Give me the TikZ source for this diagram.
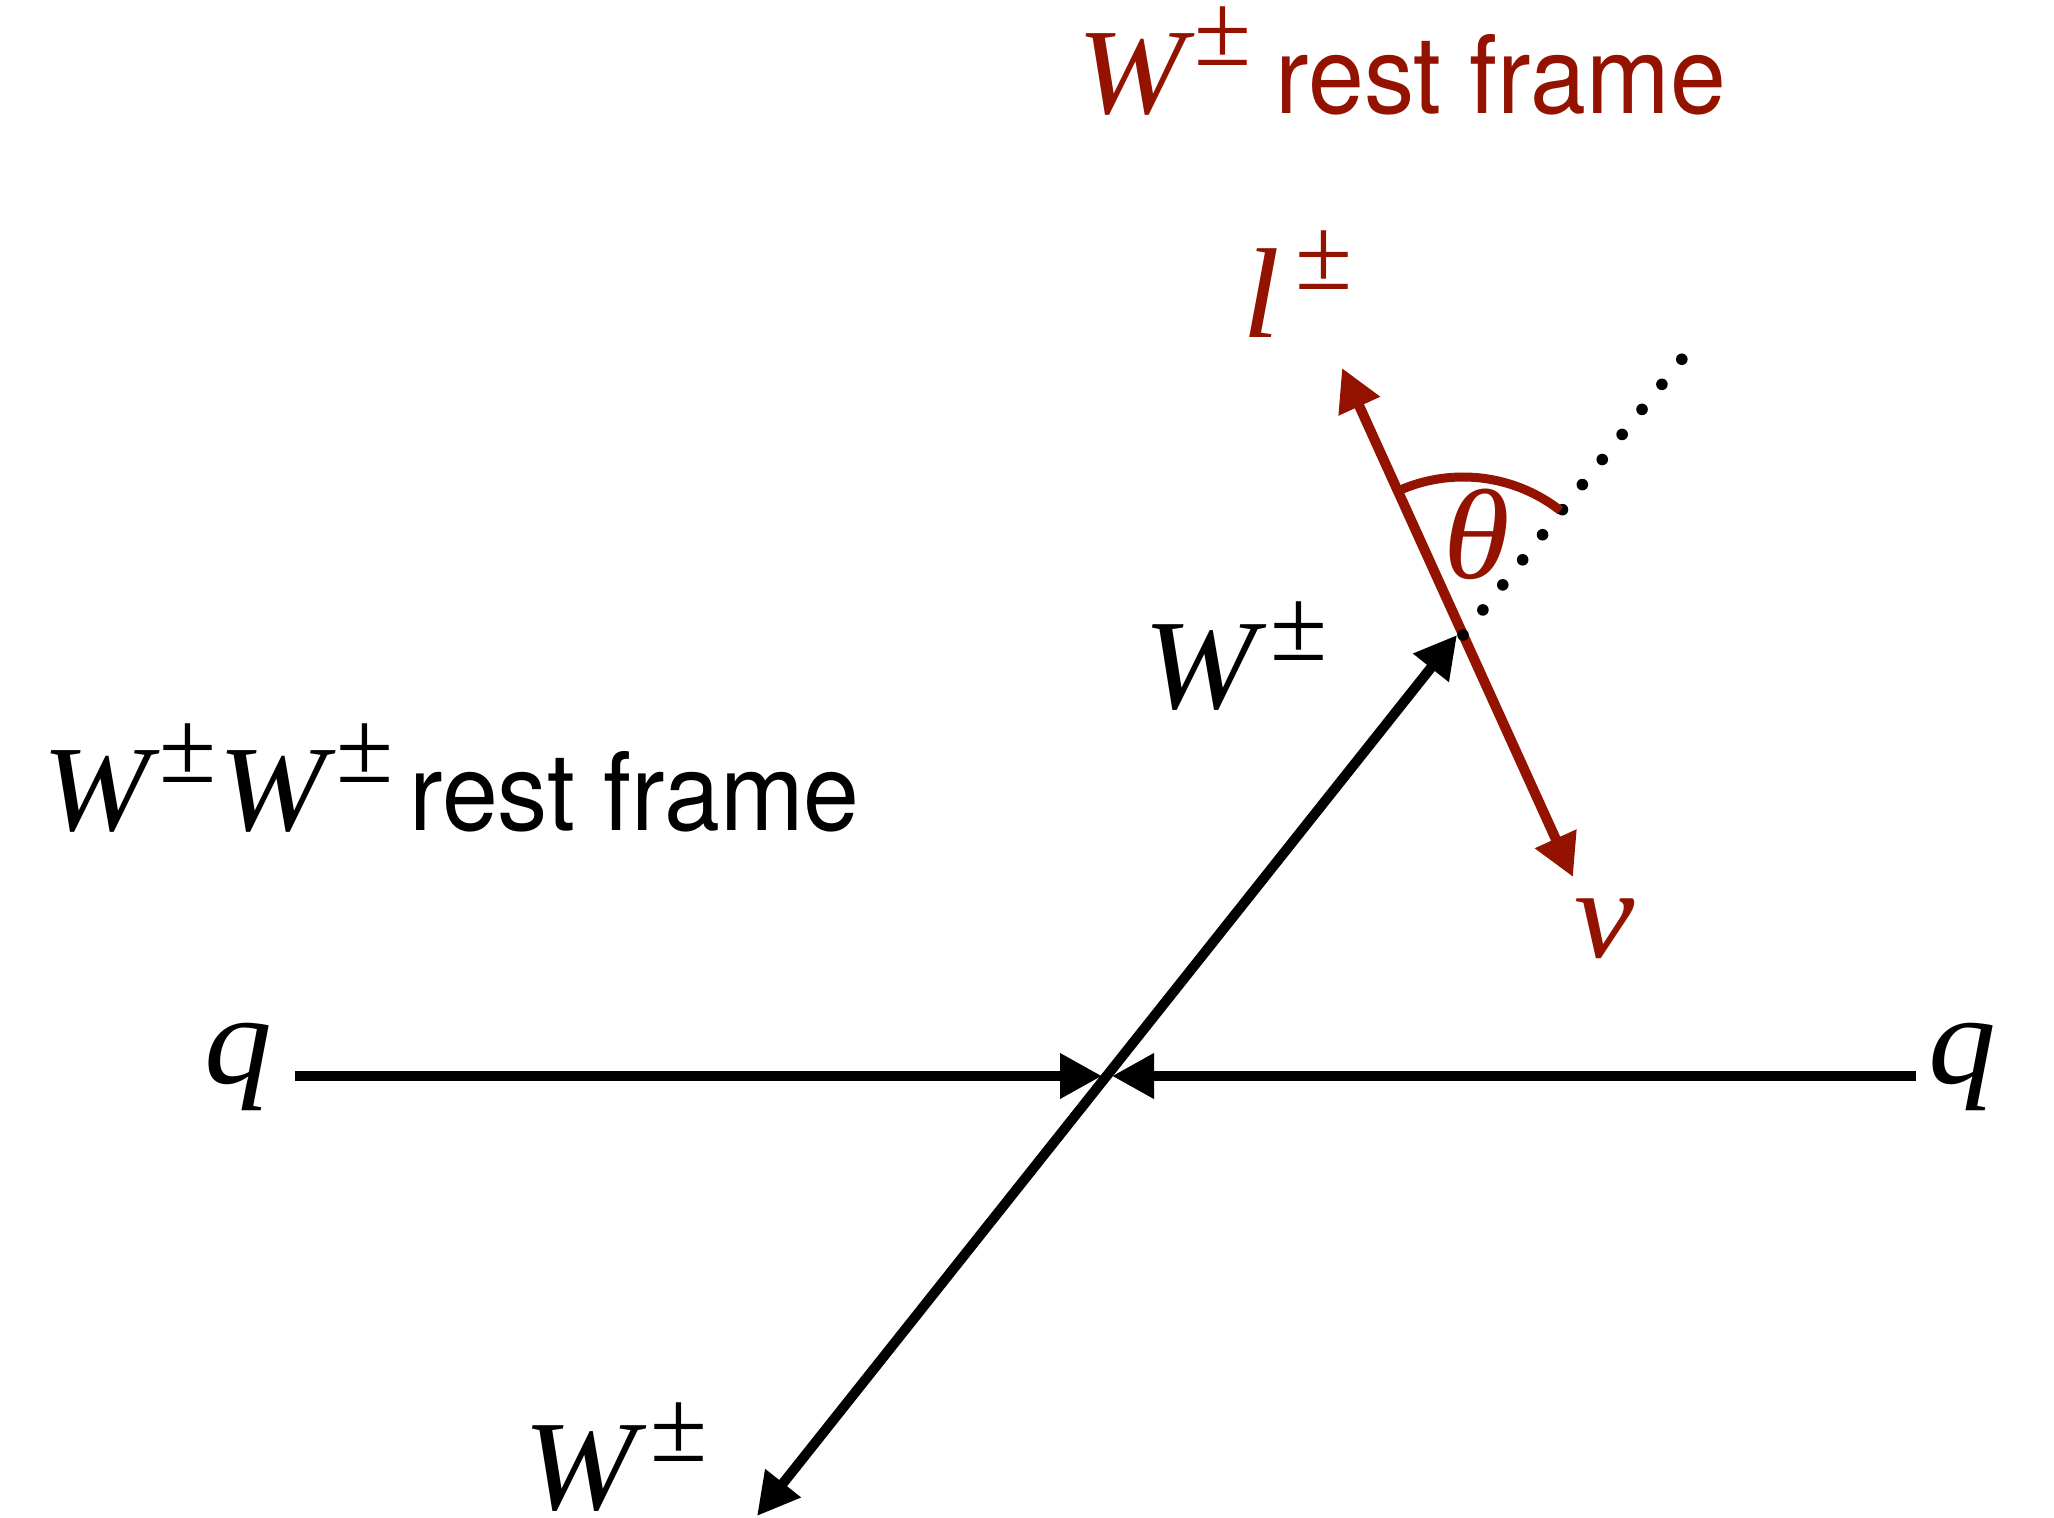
\documentclass[tikz,border=0pt]{standalone}
\usepackage{fontspec}
\newfontfamily\mfont[FakeStretch=1.06]{Liberation Serif}
\newfontfamily\pmfont{Liberation Serif}
\newfontfamily\sfont[FakeStretch=0.93]{TeX Gyre Heros}
\usetikzlibrary{arrows.meta,calc}
\definecolor{dred}{RGB}{147,18,0}
\newcommand{\mi}[1]{{\fontsize{64}{70}\selectfont\mfont\itshape #1}}
\newcommand{\mis}[1]{{\fontsize{61}{70}\selectfont\mfont\itshape #1}}
\newcommand{\mpm}{\raisebox{24pt}{\fontsize{52}{60}\selectfont\pmfont ±}}
\newcommand{\Wpm}{\mi{W}\kern7pt\mpm}
\newcommand{\Wpms}{\mis{W}\kern5pt\mpm}
\newcommand{\rf}{{\fontsize{54}{60}\selectfont\sfont rest frame}}
\begin{document}
\begin{tikzpicture}[x=0.5pt,y=-0.5pt,
  lbl/.style={inner sep=0pt, outer sep=0pt, anchor=base west},
  blk/.style={line width=5pt, black},
  redl/.style={line width=5pt, dred},
  tip/.tip={Triangle[length=21pt,width=21.5pt]}]
\useasboundingbox (0,0) rectangle (2054,1518);
% coordinates
\coordinate (L) at (295,1076);
\coordinate (R) at (1916,1076);
\coordinate (Ltip) at (1102,1076);
\coordinate (Rtip) at (1112,1076);
\coordinate (Wt) at (1457,635);
\coordinate (Wb) at (757,1516);
\coordinate (lt) at (1342,368);
\coordinate (nt) at (1573,877);
\coordinate (X) at (1463,635);
\coordinate (D) at (1682,359);
% quark lines
\draw[blk,-tip] (L) -- (Ltip);
\draw[blk,-tip] (R) -- (Rtip);
% W line
\draw[blk,tip-tip] (Wb) -- (Wt);
% lepton/neutrino
\draw[redl,tip-tip] (nt) -- (lt);
% dotted continuation
\draw[line width=5.8pt, line cap=round, dash pattern=on 0pt off 16pt] (X) -- (D);
% angle arc
\draw[dred, line width=4.5pt] ($(X)+(113:79pt)$) arc[start angle=113, end angle=52, radius=79pt];
% labels
\node[lbl] (lab1) at (42,830) {\Wpms\kern1pt\Wpms\hspace{8pt}\rf};
\node[lbl, text=dred] (lab2) at (1077,114) {\Wpms\hspace{12pt}\rf};
\node[lbl] (wup) at (1143,708) {\Wpm};
\node[lbl] (wdn) at (523,1509) {\Wpm};
\node[lbl, text=dred] (ll) at (1242,338) {\mi{l}\kern8pt\mpm};
\node[lbl, text=dred] (nu) at (1574,957) {\mi{ν}};
\node[lbl, text=dred] (th) at (1443,578) {\mi{θ}};
\node[lbl] (ql) at (204,1083) {\mi{q}};
\node[lbl] (qr) at (1928,1083) {\mi{q}};
\end{tikzpicture}
\end{document}
